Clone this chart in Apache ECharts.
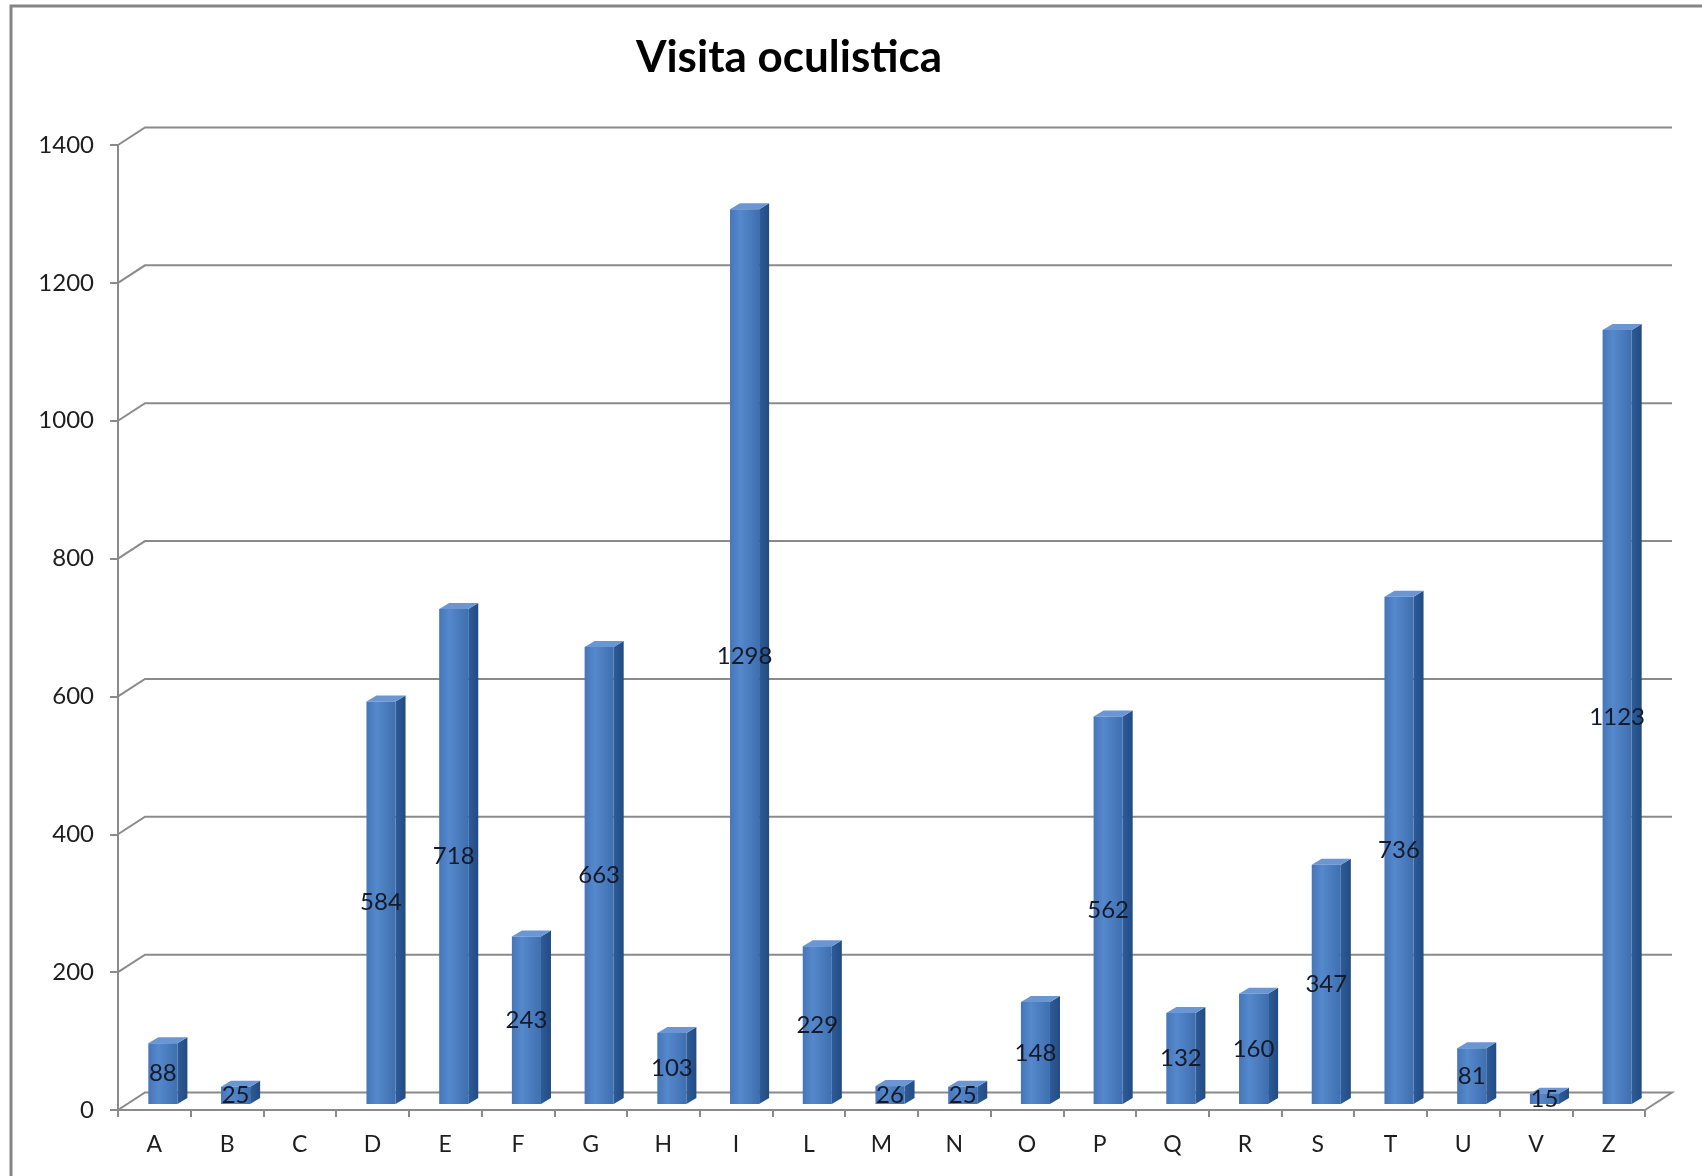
<!DOCTYPE html>
<html>
<head>
<meta charset="utf-8">
<title>Visita oculistica</title>
<script src="https://cdn.jsdelivr.net/npm/echarts@6/dist/echarts.min.js"></script>
<style>
  html, body { margin: 0; padding: 0; background: #ffffff; overflow: hidden; }
  #chart { width: 1702px; height: 1176px; }
</style>
</head>
<body>
<div id="chart"></div>
<script>
// Visits per letter group
const categories = ['A','B','C','D','E','F','G','H','I','L','M','N','O','P','Q','R','S','T','U','V','Z'];
const visits = [88, 25, null, 584, 718, 243, 663, 103, 1298, 229, 26, 25, 148, 562, 132, 160, 347, 736, 81, 15, 1123];
const yTicks = [0, 200, 400, 600, 800, 1000, 1200, 1400];

// Pseudo-3D box: offset of the back wall from the front plane
const DEPTH_X = 27;
const DEPTH_Y = -17.5;
// Bars stand a third of the way into the box
const BAR_SHIFT_X = 8.5;
const BAR_SHIFT_Y = -6;
const BAR_DEPTH_X = 10;
const BAR_DEPTH_Y = -6;
const GRID_COLOR = '#8a8a8a';

const chart = echarts.init(document.getElementById('chart'), null, { renderer: 'canvas' });

function renderWall(params, api) {
  const v = api.value(1);
  const band = api.size([1, 0])[0];
  const left = api.coord([0, v]);
  const right = api.coord([categories.length - 1, v]);
  const x0 = left[0] - band / 2;
  const x1 = right[0] + band / 2;
  const y = left[1];
  const pts = [[x0, y], [x0 + DEPTH_X, y + DEPTH_Y], [x1 + DEPTH_X, y + DEPTH_Y]];
  if (v === 0) pts.push([x1, y]);
  return {
    type: 'polyline',
    shape: { points: pts },
    style: { stroke: GRID_COLOR, lineWidth: 2, fill: null }
  };
}

function renderBar(params, api) {
  const v = api.value(1);
  if (v == null || isNaN(v) || v <= 0) return null;
  const i = api.value(0);
  const base = api.coord([i, 0]);
  const top = api.coord([i, v]);
  const band = api.size([1, 0])[0];
  const w = band * 0.4;
  const cx = base[0] + BAR_SHIFT_X;
  const xl = cx - w / 2;
  const xr = cx + w / 2;
  const yb = base[1] + BAR_SHIFT_Y;
  const yt = top[1] + BAR_SHIFT_Y;
  const children = [
    {
      type: 'polygon',
      shape: { points: [[xr, yt], [xr + BAR_DEPTH_X, yt + BAR_DEPTH_Y], [xr + BAR_DEPTH_X, yb + BAR_DEPTH_Y], [xr, yb]] },
      style: {
        fill: new echarts.graphic.LinearGradient(0, 0, 1, 0, [
          { offset: 0, color: '#2e5c99' },
          { offset: 1, color: '#224b82' }
        ])
      }
    },
    {
      type: 'polygon',
      shape: { points: [[xl, yt], [xr, yt], [xr + BAR_DEPTH_X, yt + BAR_DEPTH_Y], [xl + BAR_DEPTH_X, yt + BAR_DEPTH_Y]] },
      style: { fill: '#6a97d4' }
    },
    {
      type: 'rect',
      shape: { x: xl, y: yt, width: w, height: yb - yt },
      style: {
        fill: new echarts.graphic.LinearGradient(0, 0, 1, 0, [
          { offset: 0, color: '#4676b8' },
          { offset: 0.35, color: '#5588cc' },
          { offset: 1, color: '#3e6fb0' }
        ])
      }
    },
    {
      type: 'text',
      z2: 10,
      style: {
        text: String(v),
        x: cx,
        y: (yt + yb) / 2,
        align: 'center',
        verticalAlign: 'middle',
        font: '24px Lato',
        fill: '#141a2a'
      }
    }
  ];
  return { type: 'group', children: children };
}

const option = {
  backgroundColor: '#ffffff',
  animation: false,
  graphic: [
    {
      type: 'polyline',
      z: -10,
      shape: { points: [[11, 1180], [11, 6], [1702, 6]] },
      style: { fill: null, stroke: '#858585', lineWidth: 3 }
    },
    {
      type: 'text',
      x: 789,
      y: 58,
      style: {
        text: 'Visita oculistica',
        font: 'bold 44px Lato',
        fill: '#000000',
        align: 'center',
        verticalAlign: 'middle'
      }
    }
  ],
  grid: { left: 118, right: 57, top: 145, bottom: 66 },
  xAxis: {
    type: 'category',
    data: categories,
    boundaryGap: true,
    axisLine: { show: true, lineStyle: { color: GRID_COLOR, width: 2 } },
    axisTick: { show: true, length: 7, lineStyle: { color: GRID_COLOR, width: 2 } },
    axisLabel: { margin: 23, color: '#1e1e1e', fontFamily: 'Lato', fontSize: 23 },
    splitLine: { show: false }
  },
  yAxis: {
    type: 'value',
    min: 0,
    max: 1400,
    interval: 200,
    axisLine: { show: true, lineStyle: { color: GRID_COLOR, width: 2 } },
    axisTick: { show: true, length: 8, lineStyle: { color: GRID_COLOR, width: 2 } },
    axisLabel: {
      margin: 24,
      color: '#1e1e1e',
      fontFamily: 'Lato',
      fontSize: 24,
      formatter: v => String(v)
    },
    splitLine: { show: false }
  },
  series: [
    {
      type: 'custom',
      name: 'walls',
      clip: false,
      silent: true,
      z: 1,
      renderItem: renderWall,
      encode: { x: 0, y: 1 },
      data: yTicks.map(v => [0, v])
    },
    {
      type: 'custom',
      name: 'Visita oculistica',
      clip: false,
      z: 3,
      renderItem: renderBar,
      encode: { x: 0, y: 1 },
      data: visits.map((v, i) => [i, v])
    }
  ]
};

chart.setOption(option);
</script>
</body>
</html>
